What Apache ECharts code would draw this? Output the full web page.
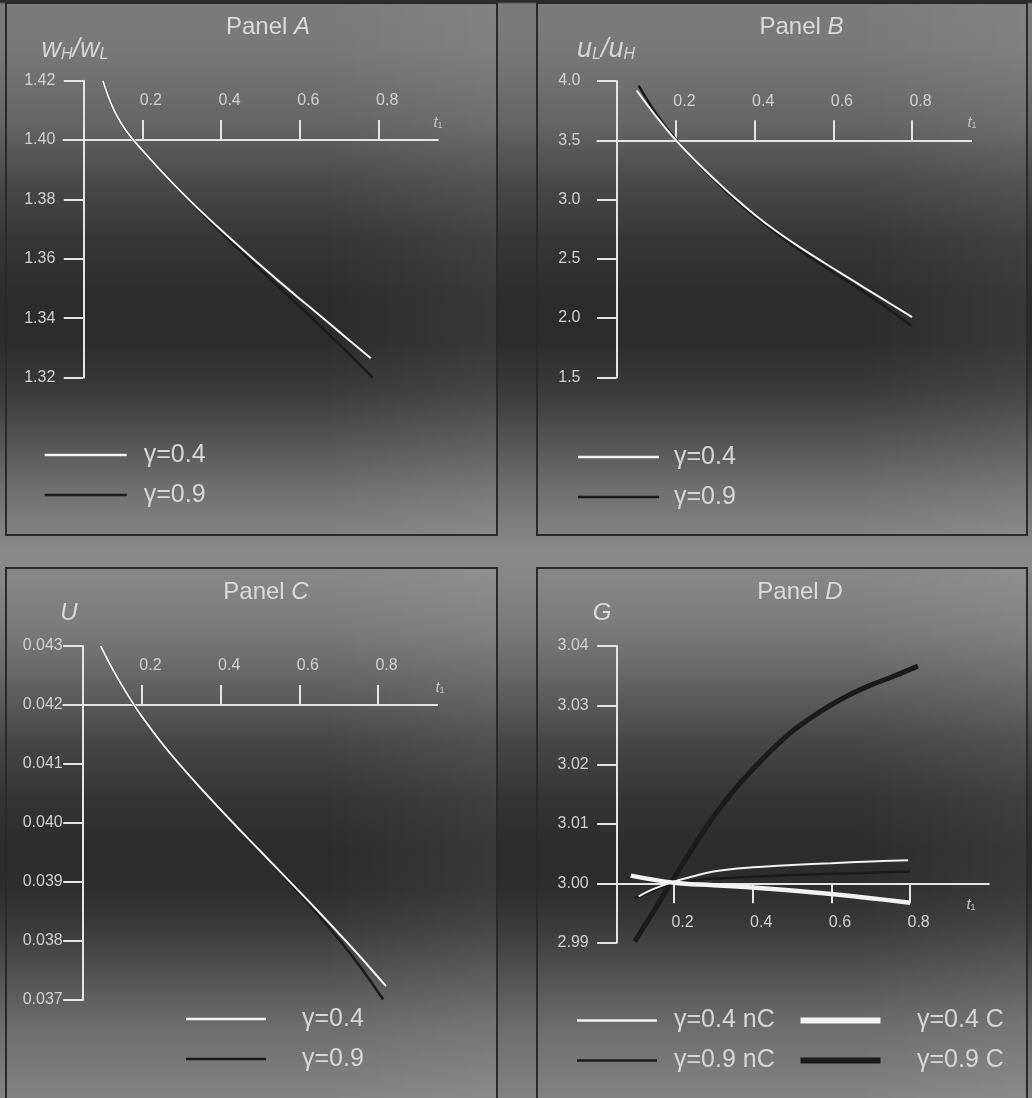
<!DOCTYPE html>
<html>
<head>
<meta charset="utf-8">
<title>Panels A–D</title>
<script src="https://cdn.jsdelivr.net/npm/echarts@6/dist/echarts.min.js"></script>
<style>
  html, body { margin: 0; padding: 0; width: 1032px; height: 1098px; overflow: hidden; }
  body {
    background: linear-gradient(to bottom,
      #2c2c2c 0px, #2c2c2c 2px, #7b7b7b 4px, #787878 50px, #666666 120px, #4a4a4a 180px,
      #363636 240px, #2c2c2c 300px, #2c2c2c 340px, #3a3a3a 390px, #545454 440px,
      #707070 490px, #838383 535px, #8a8a8a 552px, #858585 585px, #7a7a7a 630px,
      #646464 680px, #474747 740px, #343434 800px, #2c2c2c 850px, #2e2e2e 890px,
      #3c3c3c 930px, #555555 980px, #6e6e6e 1030px, #838383 1098px);
  }
  .panel {
    position: absolute; box-sizing: border-box; border: 2px solid #2a2a2a;
    background: linear-gradient(to right, rgba(255,255,255,0) 65%, rgba(255,255,255,0.06) 100%);
  }
  #chart { position: absolute; left: 0; top: 0; width: 1032px; height: 1098px; }
</style>
</head>
<body>
<div class="panel" style="left:5px;top:2px;width:493px;height:534px"></div>
<div class="panel" style="left:536px;top:2px;width:492px;height:534px"></div>
<div class="panel" style="left:5px;top:567px;width:493px;height:540px"></div>
<div class="panel" style="left:536px;top:567px;width:492px;height:540px"></div>
<div id="chart"></div>
<script>
// ---- data -------------------------------------------------------------
const tTicks = [0.2, 0.4, 0.6, 0.8];

// Panel A: relative wage w_H / w_L
const tA_g04 = [0.10, 0.125, 0.15, 0.175, 0.20, 0.25, 0.30, 0.35, 0.40, 0.45, 0.50, 0.55, 0.60, 0.65, 0.70, 0.78];
const wA_g04 = [1.4200, 1.4110, 1.4049, 1.4004, 1.3966, 1.3893, 1.3824, 1.3759, 1.3697, 1.3637, 1.3578, 1.3521, 1.3465, 1.3410, 1.3354, 1.3265];
const tA_g09 = [0.10, 0.125, 0.15, 0.175, 0.20, 0.25, 0.30, 0.35, 0.40, 0.45, 0.50, 0.55, 0.60, 0.65, 0.70, 0.785];
const wA_g09 = [1.4200, 1.4110, 1.4049, 1.4004, 1.3966, 1.3893, 1.3823, 1.3756, 1.3690, 1.3626, 1.3563, 1.3501, 1.3439, 1.3376, 1.3312, 1.3200];

// Panel B: u_L / u_H
const tB_g04 = [0.10, 0.15, 0.20, 0.25, 0.30, 0.35, 0.40, 0.45, 0.50, 0.55, 0.60, 0.65, 0.70, 0.75, 0.80];
const uB_g04 = [3.920, 3.700, 3.500, 3.325, 3.165, 3.012, 2.872, 2.745, 2.630, 2.522, 2.418, 2.315, 2.212, 2.110, 2.007];
const tB_g09 = [0.105, 0.15, 0.20, 0.25, 0.30, 0.35, 0.40, 0.45, 0.50, 0.55, 0.60, 0.65, 0.70, 0.75, 0.80];
const uB_g09 = [3.960, 3.722, 3.505, 3.322, 3.156, 3.000, 2.858, 2.727, 2.606, 2.494, 2.386, 2.279, 2.170, 2.053, 1.930];

// Panel C: U
const tC_g04 = [0.095, 0.12, 0.15, 0.175, 0.20, 0.25, 0.30, 0.35, 0.40, 0.45, 0.50, 0.55, 0.60, 0.65, 0.70, 0.75, 0.82];
const UC_g04 = [0.043000, 0.042675, 0.042321, 0.042051, 0.041804, 0.041359, 0.040959, 0.040584, 0.040224, 0.039874, 0.039529, 0.039184, 0.038837, 0.038487, 0.038132, 0.037767, 0.037235];
const tC_g09 = [0.095, 0.12, 0.15, 0.175, 0.20, 0.25, 0.30, 0.35, 0.40, 0.45, 0.50, 0.55, 0.60, 0.65, 0.70, 0.75, 0.813];
const UC_g09 = [0.043000, 0.042675, 0.042321, 0.042051, 0.041804, 0.041359, 0.040959, 0.040584, 0.040224, 0.039874, 0.039529, 0.039174, 0.038807, 0.038427, 0.038032, 0.037607, 0.037008];

// Panel D: G, nC and C cases
const tD_g04nC = [0.11, 0.15, 0.20, 0.25, 0.30, 0.40, 0.50, 0.60, 0.70, 0.795];
const GD_g04nC = [2.9978, 2.9991, 3.0003, 3.0012, 3.0020, 3.0027, 3.0031, 3.0034, 3.0037, 3.0039];
const tD_g09nC = [0.10, 0.15, 0.20, 0.25, 0.30, 0.40, 0.50, 0.60, 0.70, 0.80];
const GD_g09nC = [2.9975, 2.9988, 3.0000, 3.0005, 3.0008, 3.0011, 3.0014, 3.0016, 3.0018, 3.0020];
const tD_g04C = [0.09, 0.20, 0.30, 0.40, 0.50, 0.60, 0.70, 0.80];
const GD_g04C = [3.0013, 3.0001, 2.9997, 2.9993, 2.9988, 2.9982, 2.9975, 2.99675];
const tD_g09C = [0.10, 0.15, 0.20, 0.25, 0.30, 0.35, 0.40, 0.45, 0.50, 0.55, 0.60, 0.65, 0.70, 0.75, 0.82];
const GD_g09C = [2.9902, 2.9955, 3.0009, 3.0062, 3.0112, 3.0155, 3.0192, 3.0226, 3.0256, 3.0280, 3.0301, 3.0319, 3.0334, 3.0347, 3.0366];

// ---- styling ----------------------------------------------------------
const FONT = '"Liberation Sans", Arial, sans-serif';
const WHITE = '#f2f2f2';
const DARK = '#1b1b1b';
const AXIS = '#e4e4e4';
const INK = '#d0d0d0';

// grid rectangles (px), axis ranges, value where the t1 axis crosses,
// how far the value axis sits inside the grid, label margins
const panels = [
  { id: 'A', rect: { left: 63.5, top: 80.7, width: 374.3, height: 296.9 }, x: [0, 0.95],
    y: [1.32, 1.42], step: 0.02, dec: 2, cross: 1.40, shift: 19.8, yMargin: 28, side: 'top' },
  { id: 'B', rect: { left: 597.3, top: 81, width: 373.8, height: 296.3 }, x: [0, 0.95],
    y: [1.5, 4.0], step: 0.5, dec: 1, cross: 3.5, shift: 19.2, yMargin: 36, side: 'top' },
  { id: 'C', rect: { left: 63.3, top: 646, width: 373.8, height: 354 }, x: [0, 0.95],
    y: [0.037, 0.043], step: 0.001, dec: 3, cross: 0.042, shift: 19.4, yMargin: 20, side: 'top' },
  { id: 'D', rect: { left: 615, top: 646, width: 373.8, height: 296.7 }, x: [0.05, 1.0],
    y: [2.99, 3.04], step: 0.01, dec: 2, cross: 3.00, shift: 1.7, yMargin: 28, side: 'bottom' }
];

const pairs = (ts, vs) => ts.map((t, i) => [t, vs[i]]);

const grids = [], xAxes = [], yAxes = [];
panels.forEach((p, i) => {
  grids.push(Object.assign({ outerBoundsMode: 'none', containLabel: false }, p.rect));
  const span = p.y[1] - p.y[0];
  const off = p.side === 'top'
    ? -((p.y[1] - p.cross) / span) * p.rect.height
    : -((p.cross - p.y[0]) / span) * p.rect.height;
  xAxes.push({
    gridIndex: i, type: 'value', min: p.x[0], max: p.x[1], position: p.side, offset: off,
    axisLine: { show: true, onZero: false, lineStyle: { color: AXIS, width: 2 } },
    axisTick: { show: true, customValues: tTicks, length: 20, lineStyle: { color: AXIS, width: 2 } },
    axisLabel: { show: true, customValues: tTicks, margin: 31, color: INK, fontSize: 16,
                 fontFamily: FONT, padding: [0, 0, 0, 17], formatter: v => v.toFixed(1) },
    splitLine: { show: false }
  });
  yAxes.push({
    gridIndex: i, type: 'value', min: p.y[0], max: p.y[1], interval: p.step,
    position: 'left', offset: -p.shift,
    axisLine: { show: true, onZero: false, lineStyle: { color: AXIS, width: 2 } },
    axisTick: { show: true, length: 19.5, lineStyle: { color: AXIS, width: 2 } },
    axisLabel: { show: true, margin: p.yMargin, color: INK, fontSize: 16, fontFamily: FONT,
                 formatter: v => v.toFixed(p.dec) },
    splitLine: { show: false }
  });
});

function curve(name, gi, ts, vs, color, width) {
  return {
    name: name, type: 'line', xAxisIndex: gi, yAxisIndex: gi,
    data: pairs(ts, vs), showSymbol: false, symbol: 'none', smooth: 0.4,
    lineStyle: { color: color, width: width, cap: 'butt' }, itemStyle: { color: color },
    silent: true, animation: false
  };
}

const series = [
  curve('A|γ=0.9', 0, tA_g09, wA_g09, DARK, 2.5),
  curve('A|γ=0.4', 0, tA_g04, wA_g04, WHITE, 2),
  curve('B|γ=0.9', 1, tB_g09, uB_g09, DARK, 2.5),
  curve('B|γ=0.4', 1, tB_g04, uB_g04, WHITE, 2),
  curve('C|γ=0.9', 2, tC_g09, UC_g09, DARK, 2.5),
  curve('C|γ=0.4', 2, tC_g04, UC_g04, WHITE, 2),
  curve('D|γ=0.9 C', 3, tD_g09C, GD_g09C, DARK, 5),
  curve('D|γ=0.9 nC', 3, tD_g09nC, GD_g09nC, DARK, 2.5),
  curve('D|γ=0.4 C', 3, tD_g04C, GD_g04C, WHITE, 4.5),
  curve('D|γ=0.4 nC', 3, tD_g04nC, GD_g04nC, WHITE, 2)
];

function legend(names, left, top, w, h, padLeft) {
  return {
    orient: 'vertical', left: left, top: top, padding: 0, itemGap: 0,
    icon: 'rect', itemWidth: w, itemHeight: h, selectedMode: false,
    data: names, formatter: n => n.split('|')[1],
    textStyle: { color: '#d6d6d6', fontSize: 25, fontFamily: FONT, lineHeight: 30,
                 padding: [10, 0, 0, padLeft] }
  };
}

const legends = [
  legend(['A|γ=0.4', 'A|γ=0.9'], 44.7, 435, 82, 2.5, 12),
  legend(['B|γ=0.4', 'B|γ=0.9'], 578, 437, 81, 2.5, 10),
  legend(['C|γ=0.4', 'C|γ=0.9'], 186, 999, 80, 2.5, 31),
  legend(['D|γ=0.4 nC', 'D|γ=0.9 nC'], 577, 1000.6, 80, 2.5, 12),
  legend(['D|γ=0.4 C', 'D|γ=0.9 C'], 800.5, 1000.6, 80, 6, 31.5)
];

// ---- text labels ------------------------------------------------------
function label(x, y, text, rich) {
  return {
    type: 'text', x: x, y: y, silent: true,
    style: { text: text, fill: '#dadada', align: 'center', verticalAlign: 'middle',
             font: '24px ' + FONT, rich: rich || {} }
  };
}
const titleRich = { i: { fontStyle: 'italic', fontSize: 24, fontFamily: FONT, fill: '#dadada' } };
const ratioRich = {
  v: { fontStyle: 'italic', fontSize: 27, fontFamily: FONT, fill: '#d4d4d4', verticalAlign: 'bottom' },
  s: { fontStyle: 'italic', fontSize: 16, fontFamily: FONT, fill: '#d4d4d4', verticalAlign: 'bottom' }
};
const tRich = {
  t: { fontStyle: 'italic', fontSize: 15, fontFamily: FONT, fill: '#c4c4c4', verticalAlign: 'bottom' },
  s: { fontSize: 9, fontFamily: FONT, fill: '#c4c4c4', verticalAlign: 'bottom' }
};

const texts = [
  label(268, 27, 'Panel {i|A}', titleRich),
  label(801.5, 27, 'Panel {i|B}', titleRich),
  label(266, 592.4, 'Panel {i|C}', titleRich),
  label(800, 592, 'Panel {i|D}', titleRich),
  label(75, 49, '{v|w}{s|H}{v|/w}{s|L}', ratioRich),
  label(606, 49, '{v|u}{s|L}{v|/u}{s|H}', ratioRich),
  label(69, 613, '{i|U}', titleRich),
  label(602, 613, '{i|G}', titleRich),
  label(438, 123, '{t|t}{s|1}', tRich),
  label(972, 122.5, '{t|t}{s|1}', tRich),
  label(440, 687.5, '{t|t}{s|1}', tRich),
  label(971, 905, '{t|t}{s|1}', tRich)
];

const chart = echarts.init(document.getElementById('chart'), null, { renderer: 'canvas' });
chart.setOption({
  backgroundColor: 'transparent',
  animation: false,
  grid: grids,
  xAxis: xAxes,
  yAxis: yAxes,
  legend: legends,
  series: series,
  graphic: texts
});
</script>
</body>
</html>
